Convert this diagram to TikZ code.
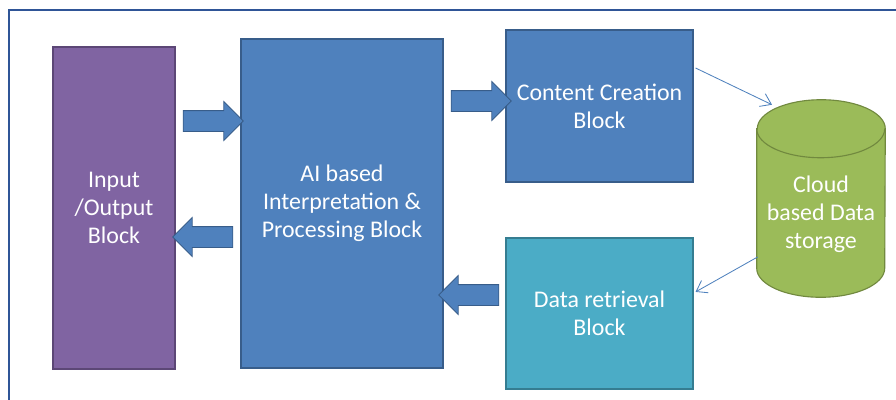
\documentclass[tikz,border=0pt]{standalone}
\usepackage{fontspec}
\setmainfont{Carlito}
\usetikzlibrary{shapes.geometric, shapes.arrows, arrows.meta, positioning, calc}
\definecolor{iofill}{HTML}{8064A2}
\definecolor{ioedge}{HTML}{5C4776}
\definecolor{aifill}{HTML}{4F81BD}
\definecolor{aiedge}{HTML}{385D8A}
\definecolor{dbfill}{HTML}{4BACC6}
\definecolor{dbedge}{HTML}{357D91}
\definecolor{cloudfill}{HTML}{9BBB59}
\definecolor{cloudedge}{HTML}{71893F}
\definecolor{frame}{HTML}{2F5597}

\begin{document}
\begin{tikzpicture}[
    every node/.style={font=\fontsize{17pt}{20pt}\selectfont, text=white, align=center},
    block/.style={draw=aiedge, fill=aifill, line width=0.8pt},
    bigarrow/.style={single arrow, draw=aiedge, fill=aifill, line width=0.6pt,
                     minimum height=1.5cm, inner xsep=0pt, inner ysep=0.25cm,
                     single arrow head extend=0.225cm, single arrow head indent=0pt},
    thin/.style={draw=aifill, line width=0.6pt, -{Straight Barb[length=2.5mm, width=3.5mm]}},
    rim/.style={x radius=1.6cm, y radius=0.725cm}
]
    \useasboundingbox (0,0) rectangle (22.4,-9.975);
    \draw[frame, line width=1.4pt] (0.225,-10.5) -- (0.225,-0.25) -- (23,-0.25);

    % Main blocks
    \node[block, draw=ioedge, fill=iofill, minimum width=3.05cm, minimum height=8.05cm]
        (io) at (2.85,-5.2) {Input\\/Output\\Block};
    \node[block, minimum width=5.05cm, minimum height=8.225cm]
        (ai) at (8.55,-5.0875) {AI based\\Interpretation \&\\Processing Block};
    \node[block, minimum width=4.675cm, minimum height=3.8cm]
        (cc) at (14.9875,-2.65) {Content Creation\\Block};
    \node[block, draw=dbedge, fill=dbfill, minimum width=4.675cm, minimum height=3.775cm]
        (dr) at (14.9875,-7.8375) {Data retrieval\\Block};

    % Storage drum
    \node[minimum width=3.2cm, minimum height=4.925cm, inner sep=0pt] (cloud) at (20.525,-4.9625) {};
    \filldraw[draw=cloudedge, fill=cloudfill, line width=0.8pt]
        ($(cloud.north west)+(0,-0.725)$) -- ($(cloud.south west)+(0,0.725)$)
        arc[rim, start angle=180, end angle=360]
        -- ($(cloud.north east)+(0,-0.725)$)
        arc[rim, start angle=0, end angle=180] -- cycle;
    \draw[cloudedge, line width=0.8pt] ($(cloud.north west)+(0,-0.725)$)
        arc[rim, start angle=180, end angle=360];
    \node (cloudtxt) at ($(cloud.center)+(0,-0.39)$) {Cloud\\based Data\\storage};

    % Block arrows between the blocks
    \node[bigarrow] (a1) at (5.2,-3.025) {};
    \node[bigarrow, shape border rotate=180] (a2) at (5.2,-5.925) {};
    \node[bigarrow] (a3) at (11.9,-2.525) {};
    \node[bigarrow, shape border rotate=180] (a4) at (11.85,-7.375) {};

    % Thin links to and from storage
    \draw[thin] ($(cc.east)+(0.05,0.95)$) -- ($(cloud.north)+(-1.225,-0.125)$);
    \draw[thin] ($(cloud.west)+(0.025,-1.46)$) -- ($(dr.east)+(0.05,0.54)$);
\end{tikzpicture}
\end{document}
